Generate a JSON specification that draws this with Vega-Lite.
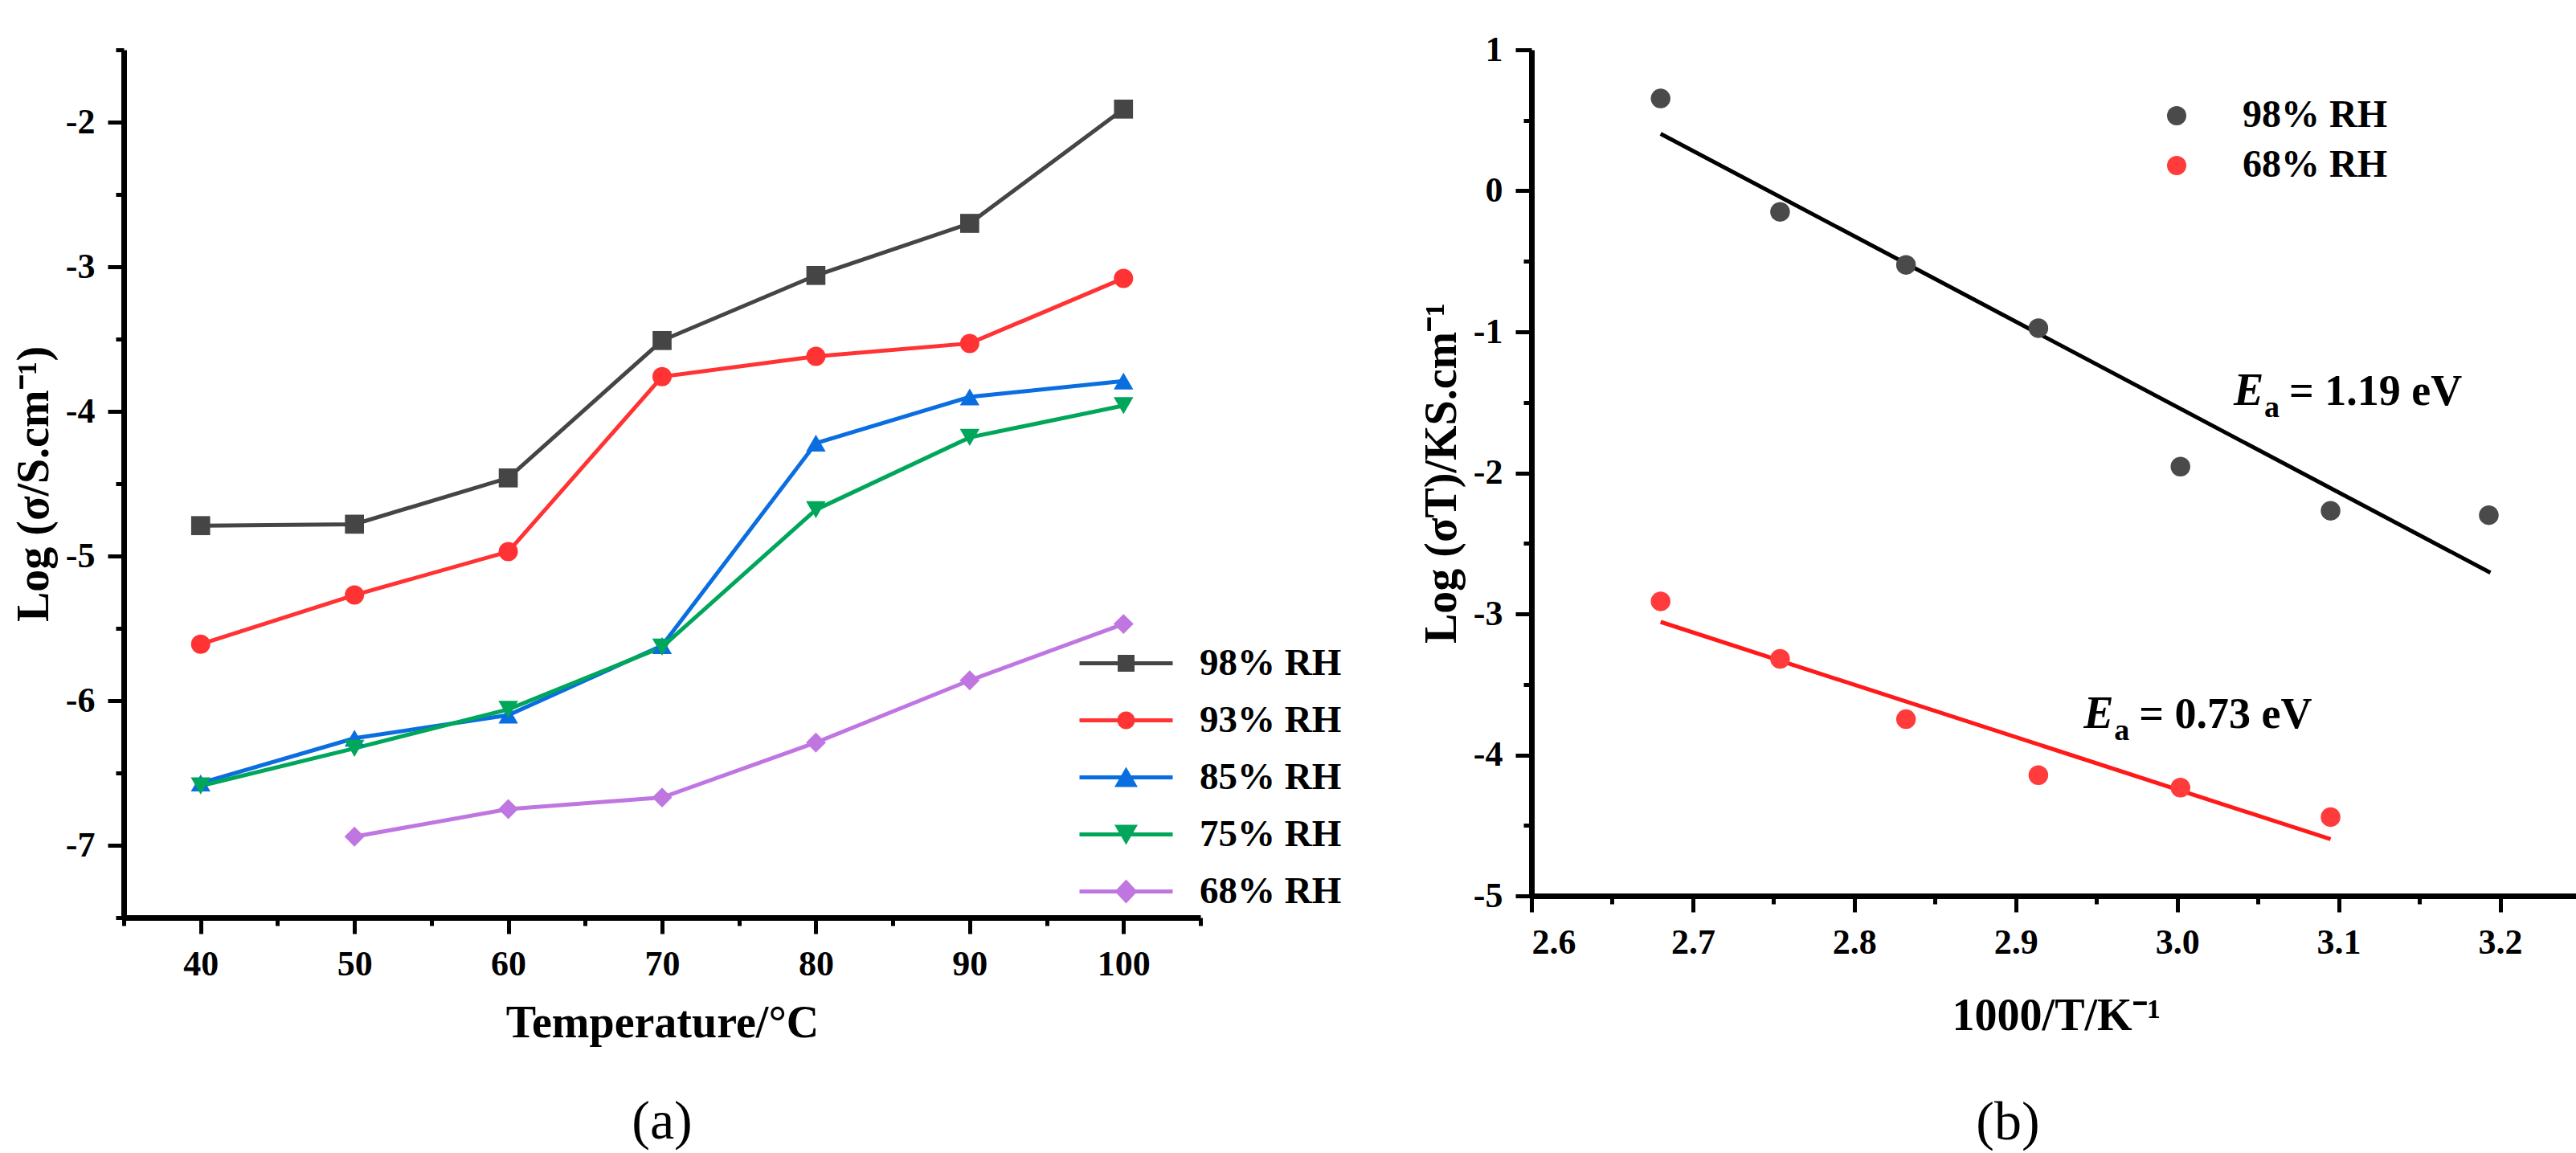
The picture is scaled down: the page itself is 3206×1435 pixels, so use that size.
{
  "$schema": "https://vega.github.io/schema/vega-lite/v6.json",
  "background": "white",
  "padding": {"left": 14, "top": 40, "right": 0, "bottom": 0},
  "spacing": 96,
  "config": {
    "font": "Liberation Serif",
    "view": {"stroke": null},
    "axis": {
      "grid": false,
      "domainColor": "#000000",
      "domainWidth": 7,
      "tickColor": "#000000",
      "tickWidth": 5,
      "labelFont": "Liberation Serif",
      "labelFontWeight": "bold",
      "labelFontSize": 44,
      "labelColor": "#000000",
      "labelPadding": 16,
      "titleFont": "Liberation Serif",
      "titleFontWeight": "bold",
      "titleFontSize": 56,
      "titleColor": "#000000"
    },
    "title": {"font": "Liberation Serif", "fontSize": 68, "fontWeight": "normal", "color": "#000000"}
  },
  "datasets": {
    "cond": [
      {"temp": 40, "rh": "98% RH", "logsigma": -4.79},
      {"temp": 50, "rh": "98% RH", "logsigma": -4.78},
      {"temp": 60, "rh": "98% RH", "logsigma": -4.46},
      {"temp": 70, "rh": "98% RH", "logsigma": -3.51},
      {"temp": 80, "rh": "98% RH", "logsigma": -3.06},
      {"temp": 90, "rh": "98% RH", "logsigma": -2.70},
      {"temp": 100, "rh": "98% RH", "logsigma": -1.91},
      {"temp": 40, "rh": "93% RH", "logsigma": -5.61},
      {"temp": 50, "rh": "93% RH", "logsigma": -5.27},
      {"temp": 60, "rh": "93% RH", "logsigma": -4.97},
      {"temp": 70, "rh": "93% RH", "logsigma": -3.76},
      {"temp": 80, "rh": "93% RH", "logsigma": -3.62},
      {"temp": 90, "rh": "93% RH", "logsigma": -3.53},
      {"temp": 100, "rh": "93% RH", "logsigma": -3.08},
      {"temp": 40, "rh": "85% RH", "logsigma": -6.57},
      {"temp": 50, "rh": "85% RH", "logsigma": -6.26},
      {"temp": 60, "rh": "85% RH", "logsigma": -6.10},
      {"temp": 70, "rh": "85% RH", "logsigma": -5.62},
      {"temp": 80, "rh": "85% RH", "logsigma": -4.22},
      {"temp": 90, "rh": "85% RH", "logsigma": -3.90},
      {"temp": 100, "rh": "85% RH", "logsigma": -3.79},
      {"temp": 40, "rh": "75% RH", "logsigma": -6.59},
      {"temp": 50, "rh": "75% RH", "logsigma": -6.33},
      {"temp": 60, "rh": "75% RH", "logsigma": -6.06},
      {"temp": 70, "rh": "75% RH", "logsigma": -5.63},
      {"temp": 80, "rh": "75% RH", "logsigma": -4.68},
      {"temp": 90, "rh": "75% RH", "logsigma": -4.18},
      {"temp": 100, "rh": "75% RH", "logsigma": -3.96},
      {"temp": 50, "rh": "68% RH", "logsigma": -6.94},
      {"temp": 60, "rh": "68% RH", "logsigma": -6.75},
      {"temp": 70, "rh": "68% RH", "logsigma": -6.67},
      {"temp": 80, "rh": "68% RH", "logsigma": -6.29},
      {"temp": 90, "rh": "68% RH", "logsigma": -5.86},
      {"temp": 100, "rh": "68% RH", "logsigma": -5.47}
    ],
    "arrh": [
      {"invT": 2.680, "rh": "98% RH", "logsigmaT": 0.655},
      {"invT": 2.754, "rh": "98% RH", "logsigmaT": -0.149},
      {"invT": 2.832, "rh": "98% RH", "logsigmaT": -0.525},
      {"invT": 2.914, "rh": "98% RH", "logsigmaT": -0.974},
      {"invT": 3.002, "rh": "98% RH", "logsigmaT": -1.956},
      {"invT": 3.095, "rh": "98% RH", "logsigmaT": -2.269},
      {"invT": 3.193, "rh": "98% RH", "logsigmaT": -2.300},
      {"invT": 2.680, "rh": "68% RH", "logsigmaT": -2.911},
      {"invT": 2.754, "rh": "68% RH", "logsigmaT": -3.319},
      {"invT": 2.832, "rh": "68% RH", "logsigmaT": -3.747},
      {"invT": 2.914, "rh": "68% RH", "logsigmaT": -4.144},
      {"invT": 3.002, "rh": "68% RH", "logsigmaT": -4.232},
      {"invT": 3.095, "rh": "68% RH", "logsigmaT": -4.441}
    ],
    "fit": [
      {"invT": 2.680, "rh": "98% RH", "logsigmaT": 0.405},
      {"invT": 3.194, "rh": "98% RH", "logsigmaT": -2.708},
      {"invT": 2.680, "rh": "68% RH", "logsigmaT": -3.057},
      {"invT": 3.095, "rh": "68% RH", "logsigmaT": -4.598}
    ],
    "ea": [
      {"invT": 3.035, "logsigmaT": -1.517, "value": "= 1.19 eV"},
      {"invT": 2.942, "logsigmaT": -3.807, "value": "= 0.73 eV"}
    ]
  },
  "hconcat": [
    {
      "width": 1340,
      "height": 1080,
      "title": {"text": "(a)", "orient": "bottom", "anchor": "middle", "offset": 62},
      "data": {"name": "cond"},
      "encoding": {
        "x": {
          "field": "temp",
          "type": "quantitative",
          "scale": {"domain": [35, 105], "nice": false, "zero": false},
          "axis": {
            "title": "Temperature/°C",
            "titlePadding": 24,
            "values": [35, 40, 45, 50, 55, 60, 65, 70, 75, 80, 85, 90, 95, 100, 105],
            "labelExpr": "datum.value % 10 === 0 ? '' + datum.value : ''",
            "tickSize": {"condition": {"test": "datum.value % 10 === 0", "value": 20}, "value": 10}
          }
        },
        "y": {
          "field": "logsigma",
          "type": "quantitative",
          "scale": {"domain": [-7.5, -1.5], "nice": false, "zero": false},
          "axis": {
            "title": "Log (σ/S.cm⁻¹)",
            "titlePadding": 10,
            "values": [-7.5, -7, -6.5, -6, -5.5, -5, -4.5, -4, -3.5, -3, -2.5, -2, -1.5],
            "labelExpr": "datum.value % 1 === 0 ? '' + datum.value : ''",
            "tickSize": {"condition": {"test": "datum.value % 1 === 0", "value": 20}, "value": 10}
          }
        }
      },
      "layer": [
        {
          "mark": {"type": "line", "strokeWidth": 5},
          "encoding": {
            "color": {
              "field": "rh",
              "type": "nominal",
              "scale": {
                "domain": ["98% RH", "93% RH", "85% RH", "75% RH", "68% RH"],
                "range": ["#454545", "#ff3333", "#0a6ee0", "#00a65a", "#c076e0"]
              },
              "legend": null
            }
          }
        },
        {
          "mark": {"type": "point", "filled": true, "opacity": 1},
          "encoding": {
            "color": {
              "field": "rh",
              "type": "nominal",
              "scale": {
                "domain": ["98% RH", "93% RH", "85% RH", "75% RH", "68% RH"],
                "range": ["#454545", "#ff3333", "#0a6ee0", "#00a65a", "#c076e0"]
              },
              "legend": null
            },
            "shape": {
              "field": "rh",
              "type": "nominal",
              "scale": {
                "domain": ["98% RH", "93% RH", "85% RH", "75% RH", "68% RH"],
                "range": ["square", "circle", "triangle-up", "triangle-down", "diamond"]
              },
              "legend": null
            },
            "size": {
              "field": "rh",
              "type": "nominal",
              "scale": {
                "domain": ["98% RH", "93% RH", "85% RH", "75% RH", "68% RH"],
                "range": [560, 620, 840, 840, 760]
              },
              "legend": null
            }
          }
        },
        {
          "mark": {"type": "point", "filled": true, "opacity": 0, "size": 400},
          "encoding": {
            "color": {
              "field": "rh",
              "type": "nominal",
              "scale": {
                "domain": ["98% RH", "93% RH", "85% RH", "75% RH", "68% RH"],
                "range": ["#454545", "#ff3333", "#0a6ee0", "#00a65a", "#c076e0"]
              },
              "legend": {
                "title": null,
                "orient": "none",
                "legendX": 1224,
                "legendY": 740,
                "symbolSize": 400,
                "symbolStrokeWidth": 0,
                "symbolOpacity": 1,
                "labelFont": "Liberation Serif",
                "labelFontWeight": "bold",
                "labelFontSize": 47,
                "labelColor": "#000000",
                "labelLimit": 500,
                "labelOffset": 68,
                "rowPadding": 23
              }
            },
            "shape": {
              "field": "rh",
              "type": "nominal",
              "scale": {
                "domain": ["98% RH", "93% RH", "85% RH", "75% RH", "68% RH"],
                "range": [
                  "M-5.8,-0.25H5.8V0.25H-5.8ZM-1.05,-1.05H1.05V1.05H-1.05Z",
                  "M-5.8,-0.25H5.8V0.25H-5.8ZM1.1,0A1.1,1.1,0,1,1,-1.1,0A1.1,1.1,0,1,1,1.1,0Z",
                  "M-5.8,-0.25H5.8V0.25H-5.8ZM0,-1.3L1.45,1.2H-1.45Z",
                  "M-5.8,-0.25H5.8V0.25H-5.8ZM0,1.3L-1.45,-1.2H1.45Z",
                  "M-5.8,-0.25H5.8V0.25H-5.8ZM0,-1.5L1.4,0L0,1.5L-1.4,0Z"
                ]
              },
              "legend": {
                "title": null,
                "orient": "none",
                "legendX": 1224,
                "legendY": 740,
                "symbolSize": 400,
                "symbolStrokeWidth": 0,
                "symbolOpacity": 1,
                "labelFont": "Liberation Serif",
                "labelFontWeight": "bold",
                "labelFontSize": 47,
                "labelColor": "#000000",
                "labelLimit": 500,
                "labelOffset": 68,
                "rowPadding": 23
              }
            }
          }
        }
      ],
      "resolve": {"scale": {"color": "independent", "shape": "independent", "size": "independent"}}
    },
    {
      "width": 1306,
      "height": 1053,
      "title": {"text": "(b)", "orient": "bottom", "anchor": "middle", "offset": 72, "dx": -60},
      "encoding": {
        "x": {
          "field": "invT",
          "type": "quantitative",
          "scale": {"domain": [2.6, 3.25], "nice": false, "zero": false},
          "axis": {
            "title": "1000/T/K⁻¹",
            "titlePadding": 42,
            "values": [2.6, 2.65, 2.7, 2.75, 2.8, 2.85, 2.9, 2.95, 3.0, 3.05, 3.1, 3.15, 3.2, 3.25],
            "labelExpr": "abs(round(datum.value * 10) - datum.value * 10) < 0.001 ? format(datum.value, '.1f') : ''",
            "tickSize": {"condition": {"test": "abs(round(datum.value * 10) - datum.value * 10) < 0.001", "value": 20}, "value": 10}
          }
        },
        "y": {
          "field": "logsigmaT",
          "type": "quantitative",
          "scale": {"domain": [-5, 1], "nice": false, "zero": false},
          "axis": {
            "title": "Log (σT)/KS.cm⁻¹",
            "titlePadding": 10,
            "values": [-5, -4.5, -4, -3.5, -3, -2.5, -2, -1.5, -1, -0.5, 0, 0.5, 1],
            "labelExpr": "datum.value % 1 === 0 ? '' + datum.value : ''",
            "tickSize": {"condition": {"test": "datum.value % 1 === 0", "value": 20}, "value": 10}
          }
        }
      },
      "layer": [
        {
          "data": {"name": "fit"},
          "mark": {"type": "line", "strokeWidth": 5},
          "encoding": {
            "detail": {"field": "rh", "type": "nominal"},
            "stroke": {"condition": {"test": "datum.rh === '98% RH'", "value": "#000000"}, "value": "#ff1a1a"}
          }
        },
        {
          "data": {"name": "arrh"},
          "mark": {"type": "point", "filled": true, "opacity": 1, "size": 600, "shape": "circle"},
          "encoding": {
            "color": {
              "field": "rh",
              "type": "nominal",
              "scale": {"domain": ["98% RH", "68% RH"], "range": ["#4a4a4a", "#ff3b3b"]},
              "legend": {
                "title": null,
                "orient": "none",
                "legendX": 779,
                "legendY": 58,
                "symbolType": "circle",
                "symbolSize": 576,
                "symbolStrokeWidth": 0,
                "symbolOpacity": 1,
                "labelFont": "Liberation Serif",
                "labelFontWeight": "bold",
                "labelFontSize": 48,
                "labelColor": "#000000",
                "labelLimit": 500,
                "labelOffset": 58,
                "rowPadding": 14
              }
            }
          }
        },
        {
          "data": {"name": "ea"},
          "mark": {"type": "text", "text": "E", "font": "Liberation Serif", "fontStyle": "italic", "fontWeight": "bold", "fontSize": 56, "align": "left", "baseline": "alphabetic", "color": "#000000"}
        },
        {
          "data": {"name": "ea"},
          "mark": {"type": "text", "text": "a", "font": "Liberation Serif", "fontWeight": "bold", "fontSize": 38, "align": "left", "baseline": "alphabetic", "dx": 38, "dy": 15, "color": "#000000"}
        },
        {
          "data": {"name": "ea"},
          "mark": {"type": "text", "font": "Liberation Serif", "fontWeight": "bold", "fontSize": 54, "align": "left", "baseline": "alphabetic", "dx": 69, "color": "#000000"},
          "encoding": {"text": {"field": "value", "type": "nominal"}}
        }
      ]
    }
  ],
  "resolve": {
    "scale": {"x": "independent", "y": "independent", "color": "independent", "shape": "independent", "size": "independent"}
  }
}
